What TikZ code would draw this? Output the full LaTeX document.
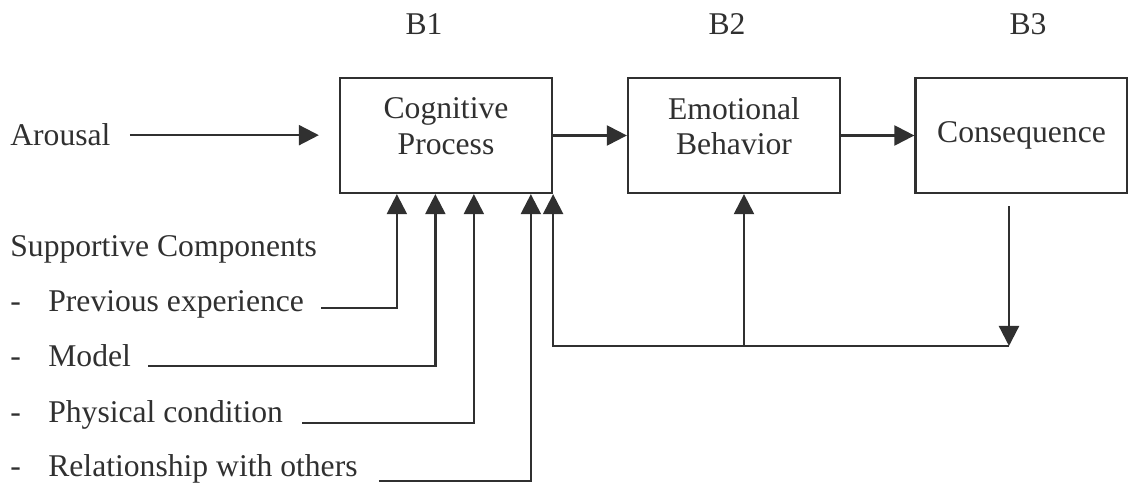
\documentclass[tikz,border=0pt]{standalone}
\usepackage{fontspec}
\setmainfont{Liberation Serif}
\usepackage{xcolor}
\usetikzlibrary{arrows.meta,calc}
\definecolor{inkD}{HTML}{303030}

\begin{document}
\begin{tikzpicture}[>={Triangle[length=0.4cm,width=0.4cm]},
  every node/.style={inkD,font=\fontsize{18}{20.4}\selectfont},
  stage/.style={draw=inkD,line width=1.3pt,minimum width=4.24cm,
                minimum height=2.3cm,align=center,inner sep=0pt},
  twoline/.style={text depth=0.38cm},
  flow/.style={inkD,line width=1.3pt,->},
  lbl/.style={inner sep=0pt,anchor=base west}]
  \useasboundingbox (0,0) rectangle (22.56,9.70);
  % boxes
  \node[stage,twoline] (cog)  at (8.92,6.99)  {Cognitive\\Process};
  \node[stage,twoline] (emo)  at (14.68,6.99) {Emotional\\Behavior};
  \node[stage]         (cons) at (20.43,6.99) {Consequence};
  \node[anchor=base] (b1) at (8.48,9.00)  {B1};
  \node[anchor=base] (b2) at (14.54,9.00) {B2};
  \node[anchor=base] (b3) at (20.56,9.00) {B3};
  % inputs
  \node[lbl] (arousal) at (0.2,6.78) {Arousal};
  \node[lbl] (supp)    at (0.2,4.56) {Supportive Components};
  \node[lbl] (prev)  at (0.2,3.46) {\makebox[0.76cm][l]{-}Previous experience};
  \node[lbl] (model) at (0.2,2.36) {\makebox[0.76cm][l]{-}Model};
  \node[lbl] (phys)  at (0.2,1.24) {\makebox[0.76cm][l]{-}Physical condition};
  \node[lbl] (rel)   at (0.2,0.16) {\makebox[0.76cm][l]{-}Relationship with others};
  \draw[flow,shorten <=0.38cm,shorten >=0.4cm] (arousal.east) -- (arousal.east -| cog.west);
  \draw[flow] (cog) -- (emo);
  \draw[flow] (emo) -- (cons);
  \draw[flow] ([xshift=0.34cm,yshift=0.08cm]prev.base east) -| ([xshift=1.16cm]cog.south west);
  \draw[flow] ([xshift=0.34cm,yshift=0.02cm]model.base east) -| ([xshift=1.93cm]cog.south west);
  \draw[flow] ([xshift=0.38cm]phys.base east) -| ([xshift=2.70cm]cog.south west);
  \draw[flow] ([xshift=0.42cm,yshift=-0.08cm]rel.base east) -| ([xshift=3.84cm]cog.south west);
  % feedback
  \coordinate (fb) at (20.18,2.78);
  \draw[flow] ([yshift=-0.24cm]cons.south -| fb) -- (fb);
  \draw[flow] (fb) -| (cog.south east);
  \draw[flow] ([xshift=0.2cm]emo.south |- fb) -- ([xshift=0.2cm]emo.south);
\end{tikzpicture}
\end{document}
